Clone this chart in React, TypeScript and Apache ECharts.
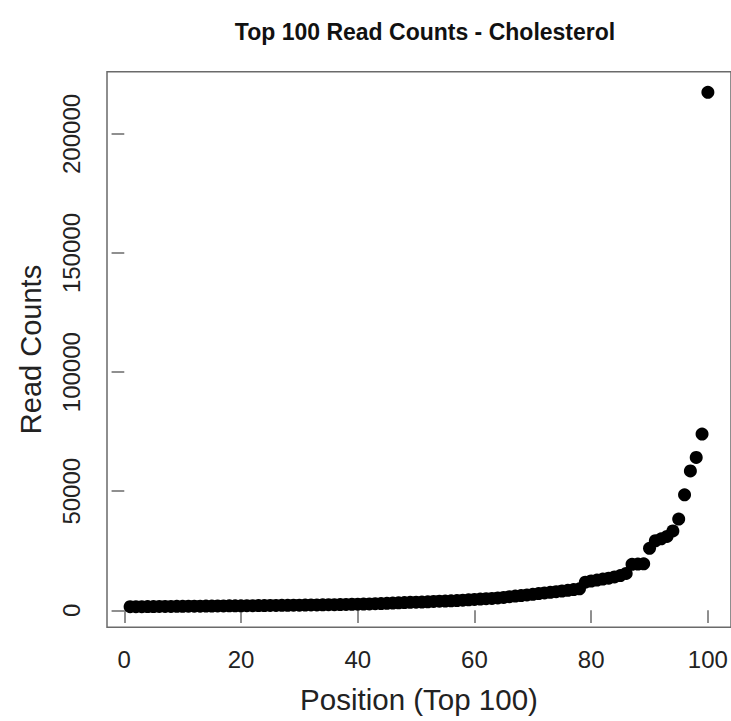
import React, { useEffect, useRef } from "react";
import * as echarts from "echarts";

const positions: number[] = Array.from({ length: 100 }, (_, i) => i + 1);

const readCounts: number[] = [
  1500, 1520, 1540, 1560, 1580, 1600, 1620, 1640, 1660, 1690,
  1710, 1730, 1750, 1770, 1790, 1810, 1840, 1860, 1880, 1900,
  1930, 1950, 1980, 2000, 2030, 2060, 2080, 2110, 2140, 2170,
  2200, 2230, 2270, 2300, 2340, 2380, 2420, 2460, 2500, 2550,
  2600, 2680, 2760, 2850, 2950, 3050, 3150, 3250, 3330, 3400,
  3480, 3560, 3700, 3800, 3900, 4000, 4100, 4250, 4400, 4550,
  4700, 4850, 5000, 5200, 5400, 5700, 5950, 6200, 6450, 6700,
  7000, 7300, 7550, 7800, 8100, 8400, 8700, 9000, 11800, 12300,
  12700, 13100, 13500, 14000, 14600, 15500, 19300, 19400, 19500, 26000,
  29200, 30000, 31000, 33300, 38300, 48500, 58500, 64200, 74000, 217500,
];

const xTicks: number[] = [0, 20, 40, 60, 80, 100];
const yTicks: number[] = [0, 50000, 100000, 150000, 200000];

const chartTitle = "Top 100 Read Counts - Cholesterol";
const xTitle = "Position (Top 100)";
const yTitle = "Read Counts";

export default function App() {
  const ref = useRef<HTMLDivElement>(null);
  useEffect(() => {
    if (!ref.current) return;
    const chart = echarts.init(ref.current, null, { renderer: "svg" });
    const font = "'Liberation Sans', Arial, Helvetica, sans-serif";
    const xr = positions[positions.length - 1] - positions[0];
    const yMin = Math.min(...readCounts);
    const yMax = Math.max(...readCounts);
    const yr = yMax - yMin;
    chart.setOption({
      animation: false,
      backgroundColor: "#ffffff",
      title: {
        text: chartTitle,
        left: 420,
        top: 15,
        textAlign: "center",
        textStyle: { fontFamily: font, fontWeight: "bold", fontSize: 23, color: "#111" },
      },
      grid: {
        left: 107,
        top: 71.7,
        width: 625.5,
        height: 555.6,
        show: true,
        borderColor: "#6a6a6a",
        borderWidth: 1.5,
        backgroundColor: "transparent",
      },
      xAxis: {
        type: "value",
        min: positions[0] - 0.04 * xr,
        max: positions[positions.length - 1] + 0.04 * xr,
        name: xTitle,
        nameLocation: "middle",
        nameGap: 57,
        nameTextStyle: { fontFamily: font, fontSize: 29.5, color: "#222" },
        axisLine: { show: false },
        splitLine: { show: false },
        axisTick: {
          show: true,
          length: 12.7,
          customValues: xTicks,
          lineStyle: { color: "#6a6a6a", width: 1.5 },
        },
        axisLabel: {
          customValues: xTicks,
          margin: 20,
          fontFamily: font,
          fontSize: 24,
          color: "#222",
          formatter: (v: number) => String(v),
        },
      },
      yAxis: {
        type: "value",
        min: yMin - 0.04 * yr,
        max: yMax + 0.04 * yr,
        name: yTitle,
        nameLocation: "middle",
        nameRotate: 90,
        nameGap: 62,
        nameTextStyle: { fontFamily: font, fontSize: 29, color: "#222" },
        axisLine: { show: false },
        splitLine: { show: false },
        axisTick: {
          show: true,
          length: 12.7,
          customValues: yTicks,
          lineStyle: { color: "#6a6a6a", width: 1.5 },
        },
        axisLabel: {
          customValues: yTicks,
          rotate: 90,
          margin: 24,
          fontFamily: font,
          fontSize: 24,
          color: "#222",
          formatter: (v: number) => String(v),
        },
      },
      series: [
        {
          type: "scatter",
          data: positions.map((p, i) => [p, readCounts[i]]),
          symbol: "circle",
          symbolSize: 13,
          itemStyle: { color: "#000000", opacity: 1 },
          clip: false,
        },
      ],
    });
    return () => chart.dispose();
  }, []);
  return (
    <div
      ref={ref}
      style={{ position: "fixed", left: 0, top: 0, width: 731, height: 721, background: "#fff" }}
    />
  );
}
